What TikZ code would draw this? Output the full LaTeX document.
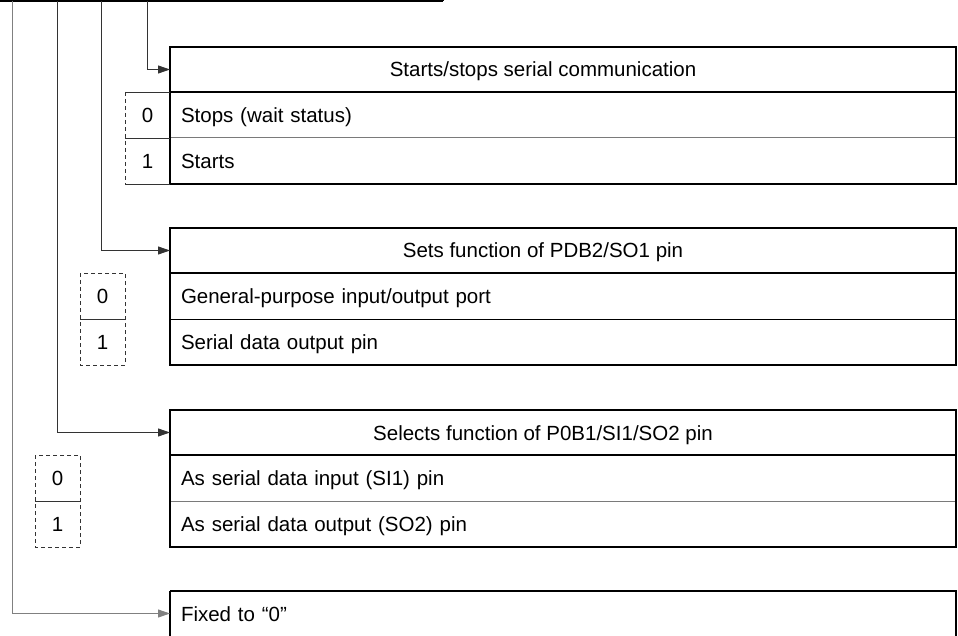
\documentclass[tikz,border=0pt]{standalone}
\usepackage{fontspec}
\setmainfont{Liberation Sans}
\usetikzlibrary{arrows.meta,positioning}
\definecolor{lead}{HTML}{333333}
\definecolor{leadlt}{HTML}{808080}
\definecolor{rule}{HTML}{7A7A7A}
\tikzset{
  hdrbox/.style={
    rectangle, draw=black, line width=1.8pt,
    minimum width=786pt, minimum height=45pt,
    outer sep=0pt, inner sep=0pt
  },
  hdrtext/.style={inner sep=0pt, xshift=-20pt, text height=15pt, text depth=0pt},
  rowbox/.style={
    rectangle, minimum width=786pt, minimum height=46pt,
    outer sep=0pt, inner xsep=11pt, inner ysep=0pt,
    text width=764pt, align=left, text height=15pt, text depth=0pt
  },
  bitcell/.style={
    rectangle, minimum width=45pt, minimum height=46pt,
    outer sep=0pt, inner sep=0pt, text height=15pt, text depth=0pt
  },
  frame/.style={draw=black, line width=1.8pt},
  divider/.style={draw=rule, line width=1pt},
  bitline/.style={draw=lead, line width=0.8pt},
  bitdash/.style={draw=lead, line width=0.8pt, dash pattern=on 4pt off 3pt},
  leader/.style={-{Triangle[length=12pt,width=8pt]}, line width=0.9pt, color=#1},
  leader/.default=lead,
}

\begin{document}
\begin{tikzpicture}[x=1pt, y=-1pt, font=\fontsize{20.5}{24}\selectfont]
\useasboundingbox (0,0) rectangle (958,636);

% register (bottom edge only in view)
\draw[line width=1.8pt] (0,1) -- (443,1);
\foreach \xx in {0,33,79,124,171,307,443}
  \draw[line width=1.2pt] (\xx,-12) -- (\xx,1);
\coordinate (b3) at (147,1);
\coordinate (b2) at (101,1);
\coordinate (b1) at (57,1);
\coordinate (b0) at (12,1);

% Starts/stops serial communication
\node[hdrbox, anchor=north west] (hdrA) at (170,47) {};
\node[hdrtext] (ttlA) at (hdrA) {Starts/stops serial communication};
\node[rowbox, below=0pt of hdrA] (rowA0) {Stops (wait status)};
\node[rowbox, below=0pt of rowA0] (rowA1) {Starts};
\draw[divider] (rowA0.south west) -- (rowA0.south east);
\draw[frame] (hdrA.north west) rectangle (rowA1.south east);
\node[bitcell, left=0pt of rowA0] (bitA0) {0};
\node[bitcell, left=0pt of rowA1] (bitA1) {1};
\draw[bitdash] (bitA0.north west) -- (bitA1.south west);
\draw[bitline] (bitA0.north west) -- (bitA0.north east);
\draw[bitline] (bitA0.south west) -- (bitA0.south east);
\draw[bitline] (bitA1.south west) -- (bitA1.south east);
\draw[leader] (b3) |- (hdrA.west);

% Sets function of PDB2/SO1 pin
\node[hdrbox, anchor=north west] (hdrB) at (170,228) {};
\node[hdrtext] (ttlB) at (hdrB) {Sets function of PDB2/SO1 pin};
\node[rowbox, below=0pt of hdrB] (rowB0) {General-purpose input/output port};
\node[rowbox, below=0pt of rowB0] (rowB1) {Serial data output pin};
\draw[divider, draw=black, line width=0.9pt] (rowB0.south west) -- (rowB0.south east);
\draw[frame] (hdrB.north west) rectangle (rowB1.south east);
\node[bitcell, left=45pt of rowB0] (bitB0) {0};
\node[bitcell, left=45pt of rowB1] (bitB1) {1};
\draw[bitdash] (bitB0.north west) rectangle (bitB1.south east);
\draw[bitline] (bitB0.south west) -- (bitB0.south east);
\draw[leader] (b2) |- (hdrB.west);

% Selects function of P0B1/SI1/SO2 pin
\node[hdrbox, anchor=north west] (hdrC) at (170,410) {};
\node[hdrtext] (ttlC) at (hdrC) {Selects function of P0B1/SI1/SO2 pin};
\node[rowbox, below=0pt of hdrC] (rowC0) {As serial data input (SI1) pin};
\node[rowbox, below=0pt of rowC0] (rowC1) {As serial data output (SO2) pin};
\draw[divider] (rowC0.south west) -- (rowC0.south east);
\draw[frame] (hdrC.north west) rectangle (rowC1.south east);
\node[bitcell, left=90pt of rowC0] (bitC0) {0};
\node[bitcell, left=90pt of rowC1] (bitC1) {1};
\draw[bitdash] (bitC0.north west) rectangle (bitC1.south east);
\draw[bitline] (bitC0.south west) -- (bitC0.south east);
\draw[leader] (b1) |- (hdrC.west);

% Fixed to 0
\node[rowbox, minimum height=45pt, anchor=north west] (rowD) at (170,591) {Fixed to “0”};
\draw[frame] (rowD.north west) -- (rowD.north east) -- (rowD.south east);
\draw[frame] (rowD.north west) -- (rowD.south west);
\draw[divider] (rowD.south west) -- (rowD.south east);
\draw[leader=leadlt] (b0) |- (rowD.west);

\end{tikzpicture}
\end{document}
